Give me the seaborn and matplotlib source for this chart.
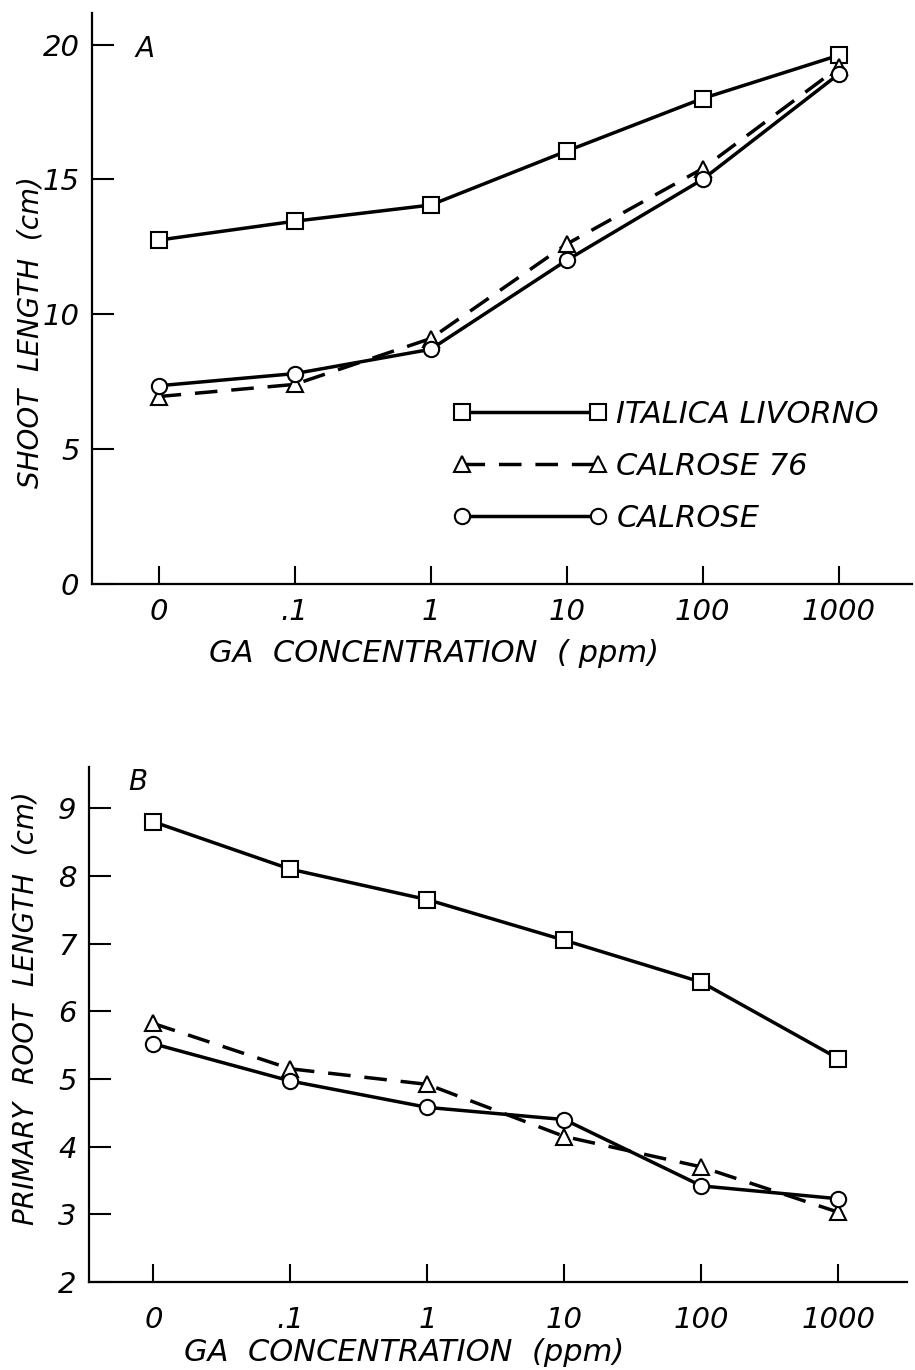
import seaborn as sns
import matplotlib.pyplot as plt
import numpy as np
import pandas as pd

# GA concentration categories (ppm), evenly spaced on the axis
conc_labels = ["0", ".1", "1", "10", "100", "1000"]
varieties = ["ITALICA LIVORNO", "CALROSE 76", "CALROSE"]

# A - shoot length (cm)
shoot_italica = [12.75, 13.45, 14.05, 16.05, 18.0, 19.6]
shoot_calrose76 = [6.95, 7.4, 9.1, 12.6, 15.4, 19.15]
shoot_calrose = [7.35, 7.8, 8.7, 12.0, 15.0, 18.9]

# B - primary root length (cm)
root_italica = [8.8, 8.1, 7.65, 7.05, 6.43, 5.3]
root_calrose76 = [5.82, 5.15, 4.92, 4.15, 3.7, 3.03]
root_calrose = [5.52, 4.97, 4.58, 4.4, 3.42, 3.23]

sns.set_style("ticks")
plt.rcParams["font.family"] = ["DejaVu Sans"]
plt.rcParams["font.style"] = "oblique"
plt.rcParams["text.color"] = "black"
plt.rcParams["axes.labelcolor"] = "black"
plt.rcParams["xtick.color"] = "black"
plt.rcParams["ytick.color"] = "black"
plt.rcParams["axes.edgecolor"] = "black"

xpos = np.arange(len(conc_labels))
markers = {"ITALICA LIVORNO": "s", "CALROSE 76": "^", "CALROSE": "o"}
styles = {"ITALICA LIVORNO": "-", "CALROSE 76": (0, (6.5, 4)), "CALROSE": "-"}


def draw(ax, series):
    for name, vals in zip(varieties, series):
        df = pd.DataFrame({"x": xpos, "y": vals})
        sns.lineplot(data=df, x="x", y="y", ax=ax, color="black", lw=2.5,
                     linestyle=styles[name], marker=markers[name], markersize=11,
                     markerfacecolor="white", markeredgecolor="black",
                     markeredgewidth=1.5)
    for s in ["top", "right"]:
        ax.spines[s].set_visible(False)
    for s in ["left", "bottom"]:
        ax.spines[s].set_linewidth(1.6)
    ax.set_xticks(xpos)
    ax.set_xticklabels(conc_labels)
    ax.tick_params(axis="both", direction="in", width=1.5, labelsize=21)
    ax.tick_params(axis="y", length=16, pad=9)
    ax.tick_params(axis="x", length=13)


fig = plt.figure(figsize=(9.15, 13.7), dpi=100)
axA = fig.add_axes([92 / 915, 1 - 584 / 1370, 820 / 915, 571 / 1370])
axB = fig.add_axes([89 / 915, 1 - 1282 / 1370, 818 / 915, 515 / 1370])

draw(axA, [shoot_italica, shoot_calrose76, shoot_calrose])
axA.set_xlim(-0.49, 5.54)
axA.set_ylim(0, 21.17)
axA.set_yticks([0, 5, 10, 15, 20])
axA.tick_params(axis="x", pad=10)
axA.set_xlabel("GA  CONCENTRATION  ( ppm)", fontsize=22)
axA.xaxis.set_label_coords(0.417, -0.121)
axA.xaxis.label.set_va("center")
axA.set_ylabel("SHOOT  LENGTH  (cm)", fontsize=20)
axA.yaxis.set_label_coords(-0.0756, 0.441)
axA.yaxis.label.set_va("center")
axA.text(0.065, 0.937, "A", transform=axA.transAxes, fontsize=20,
         ha="center", va="center")
axA.legend(handles=axA.get_lines()[:3], labels=varieties, numpoints=2,
           frameon=False, fontsize=22, handlelength=5.05, handletextpad=0.3,
           labelspacing=0.75, borderpad=0, borderaxespad=0,
           loc="center left", bbox_to_anchor=(0.44, 0.206))

draw(axB, [root_italica, root_calrose76, root_calrose])
axB.set_xlim(-0.47, 5.5)
axB.set_ylim(2, 9.61)
axB.set_yticks([2, 3, 4, 5, 6, 7, 8, 9])
axB.tick_params(axis="x", pad=17)
axB.set_xlabel("GA  CONCENTRATION  (ppm)", fontsize=22)
axB.xaxis.set_label_coords(0.385, -0.137)
axB.xaxis.label.set_va("center")
axB.set_ylabel("PRIMARY  ROOT  LENGTH  (cm)", fontsize=20)
axB.yaxis.set_label_coords(-0.078, 0.532)
axB.yaxis.label.set_va("center")
axB.text(0.06, 0.971, "B", transform=axB.transAxes, fontsize=20,
         ha="center", va="center")

fig.savefig("out.png", dpi=100)
